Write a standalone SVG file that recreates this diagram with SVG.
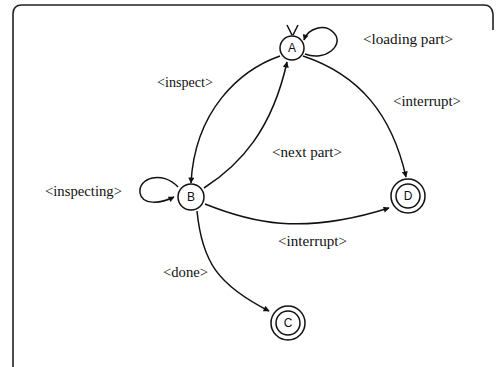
<svg xmlns="http://www.w3.org/2000/svg" width="496" height="367" viewBox="0 0 496 367">
<style>
.frame{fill:none;stroke:#222;stroke-width:1.6}
.st{fill:#fff;stroke:#111;stroke-width:1.5}
.nl{font-family:"Liberation Sans",Arial,sans-serif;font-size:12px;fill:#111;text-anchor:middle}
.lb{font-family:"Liberation Serif","Times New Roman",serif;font-size:14px;fill:#111}
.e{fill:none;stroke:#111;stroke-width:1.5}
</style>
<defs>
<marker id="ah" viewBox="0 0 10 10" refX="9" refY="5" markerWidth="9" markerHeight="6" markerUnits="userSpaceOnUse" orient="auto">
<path d="M0,0 L10,5 L0,10 z" fill="#111"/>
</marker>
</defs>
<rect width="496" height="367" fill="#fff"/>
<path class="frame" d="M13,367 L13,14 Q13,5 22,5 L484,5 Q492,5 493,14 L493,30"/>
<g id="connectors">
<path class="e" d="M287,25 L292,35 M298,25 L293,35"/>
<path class="e" d="M305,54 C325,62 345,45 334,33 C325,23 308,28 304,40" marker-end="url(#ah)"/>
<path class="e" d="M280,56 C240,70 195,110 191,183" marker-end="url(#ah)"/>
<path class="e" d="M204,188 C240,165 272,130 287,62" marker-end="url(#ah)"/>
<path class="e" d="M303,56 C360,75 392,115 406,177" marker-end="url(#ah)"/>
<path class="e" d="M205,204 C250,222 300,236 389,208" marker-end="url(#ah)"/>
<path class="e" d="M197,211 C202,262 218,285 269,311" marker-end="url(#ah)"/>
<path class="e" d="M178,187 C162,170 138,178 140,193 C142,205 160,204 174,197" marker-end="url(#ah)"/>
</g>
<g id="A"><circle class="st" cx="292" cy="48" r="12"/><text class="nl" x="292" y="52">A</text></g>
<g id="B"><circle class="st" cx="191" cy="197" r="13"/><text class="nl" x="191" y="201">B</text></g>
<g id="C"><circle class="st" cx="288" cy="323" r="17"/><circle class="st" cx="288" cy="323" r="12"/><text class="nl" x="288" y="327">C</text></g>
<g id="D"><circle class="st" cx="408" cy="196" r="17"/><circle class="st" cx="408" cy="196" r="12"/><text class="nl" x="408" y="200">D</text></g>
<g id="labels">
<text class="lb" x="363" y="44" textLength="90" lengthAdjust="spacingAndGlyphs">&lt;loading part&gt;</text>
<text class="lb" x="393" y="106" textLength="68" lengthAdjust="spacingAndGlyphs">&lt;interrupt&gt;</text>
<text class="lb" x="157" y="87" textLength="56" lengthAdjust="spacingAndGlyphs">&lt;inspect&gt;</text>
<text class="lb" x="45" y="196" textLength="77" lengthAdjust="spacingAndGlyphs">&lt;inspecting&gt;</text>
<text class="lb" x="272" y="157" textLength="70" lengthAdjust="spacingAndGlyphs">&lt;next part&gt;</text>
<text class="lb" x="278" y="246" textLength="69" lengthAdjust="spacingAndGlyphs">&lt;interrupt&gt;</text>
<text class="lb" x="163" y="277" textLength="45" lengthAdjust="spacingAndGlyphs">&lt;done&gt;</text>
</g>
</svg>
